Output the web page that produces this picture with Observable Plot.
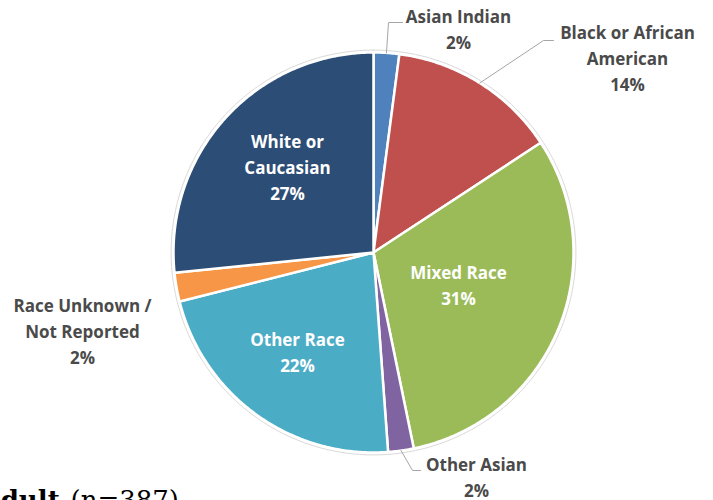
<!DOCTYPE html>
<html><head><meta charset="utf-8">
<script src="https://cdn.jsdelivr.net/npm/d3@7"></script>
<script src="https://cdn.jsdelivr.net/npm/@observablehq/plot@0.6"></script>
<style>body{margin:0;background:#fff;overflow:hidden}</style>
</head><body><div id="chart"></div>
<script>
// ---- data ----
const categories = ["Asian Indian","Black or African American","Mixed Race","Other Asian","Other Race","Race Unknown / Not Reported","White or Caucasian"];
const counts = [8, 53, 120, 8, 86, 9, 103];
const total = 387;
const groupLabel = "Adult";

// ---- styles / layout ----
const palette = ["#4F81BD","#C0504D","#9BBB59","#8064A2","#4BACC6","#F79646","#2C4D75"];
const wrapped = {
  "Black or African American": "Black or African\nAmerican",
  "Race Unknown / Not Reported": "Race Unknown /\nNot Reported",
  "White or Caucasian": "White or\nCaucasian"
};
// label anchors in pie units (radius = 1), leader elbows for outside labels
const layout = {
  "Asian Indian": {x: 0.425, y: 1.125, inside: false, leader: [[0.075, 1.15], [0.145, 1.15]]},
  "Black or African American": {x: 1.27, y: 0.977, inside: false, leader: [[0.85, 1.06], [0.9, 1.06]]},
  "Mixed Race": {x: 0.425, y: -0.155, inside: true},
  "Other Asian": {x: 0.515, y: -1.115, inside: false, leader: [[0.195, -1.09], [0.235, -1.09]]},
  "Other Race": {x: -0.38, y: -0.49, inside: true},
  "Race Unknown / Not Reported": {x: -1.455, y: -0.385, inside: false},
  "White or Caucasian": {x: -0.43, y: 0.435, inside: true}
};

const rows = categories.map((name, i) => ({name, count: counts[i]}));
const arcs = d3.pie().sort(null).value(d => d.count)(rows);

const polar = (a, r) => ({x: r * Math.sin(a), y: r * Math.cos(a)});

const slicePts = [];
for (const a of arcs) {
  const n = Math.max(2, Math.ceil((a.endAngle - a.startAngle) / (Math.PI / 360)));
  slicePts.push({name: a.data.name, x: 0, y: 0});
  for (let k = 0; k <= n; k++) {
    const t = a.startAngle + (a.endAngle - a.startAngle) * k / n;
    slicePts.push({name: a.data.name, ...polar(t, 1)});
  }
  slicePts.push({name: a.data.name, x: 0, y: 0});
}
const rimPts = d3.range(0, 361).map(k => polar(k * Math.PI / 180, 1.012));

const leaderPts = [];
const labels = [];
for (const a of arcs) {
  const name = a.data.name;
  const L = layout[name];
  const pct = Math.round(a.data.count / total * 100) + "%";
  labels.push({name, x: L.x, y: L.y, inside: L.inside, text: (wrapped[name] || name) + "\n" + pct});
  if (L.leader) {
    const mid = (a.startAngle + a.endAngle) / 2;
    leaderPts.push({name, ...polar(mid, 1.0)});
    for (const [x, y] of L.leader) leaderPts.push({name, x, y});
  }
}

const labelFont = {fontFamily: "'Open Sans', sans-serif", fontWeight: "bold", fontSize: 17, lineHeight: 1.53, textAnchor: "middle", lineAnchor: "middle"};

const chart = Plot.plot({
  width: 713,
  height: 500,
  margin: 0,
  x: {domain: [-1.865, 1.7], axis: null},
  y: {domain: [-1.24, 1.26], axis: null},
  color: {domain: categories, range: palette},
  style: {background: "white"},
  marks: [
    Plot.line(rimPts, {x: "x", y: "y", stroke: "#d9d9d9", strokeWidth: 1}),
    Plot.line(slicePts, {x: "x", y: "y", z: "name", fill: "name", stroke: "white", strokeWidth: 2.5, strokeLinejoin: "round", curve: "linear"}),
    Plot.line(leaderPts, {x: "x", y: "y", z: "name", stroke: "#A6A6A6", strokeWidth: 1}),
    Plot.text(labels.filter(d => d.inside), {x: "x", y: "y", text: "text", fill: "white", ...labelFont}),
    Plot.text(labels.filter(d => !d.inside), {x: "x", y: "y", text: "text", fill: "#4a4a4a", ...labelFont}),
    Plot.text([groupLabel], {text: d => d, frameAnchor: "bottom-left", textAnchor: "start", lineAnchor: "top", dx: -20, dy: -9.5, fontFamily: "'DejaVu Serif', serif", fontWeight: "bold", fontSize: 26, fill: "black"}),
    Plot.text([`(n=${total})`], {text: d => d, frameAnchor: "bottom-left", textAnchor: "start", lineAnchor: "top", dx: 70, dy: -9.5, fontFamily: "'DejaVu Serif', serif", fontSize: 26, fill: "black"})
  ]
});
document.getElementById("chart").appendChild(chart);
</script>
</body></html>
